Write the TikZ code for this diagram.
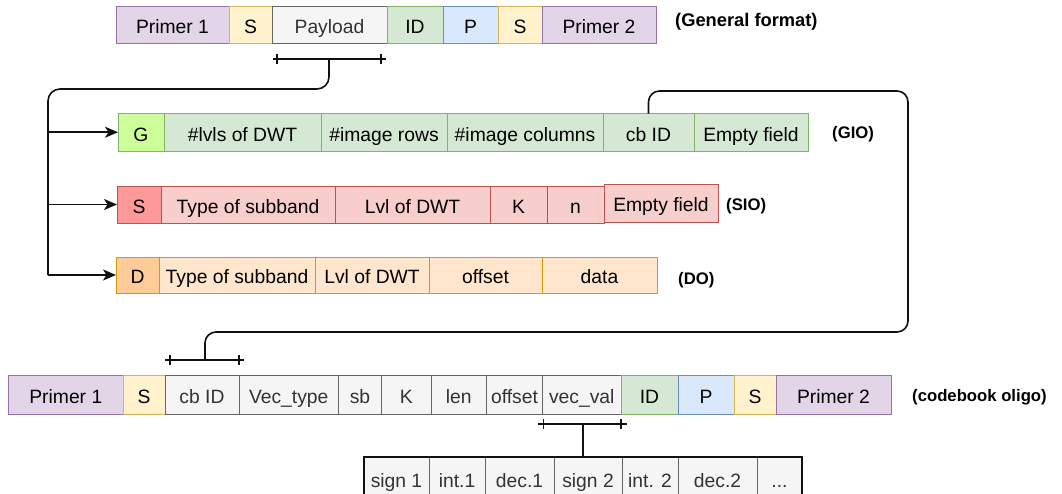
\documentclass[tikz,border=0pt]{standalone}
\usepackage{fontspec}
\setmainfont{Liberation Sans}
\usetikzlibrary{arrows.meta}
\definecolor{pF}{HTML}{E1D5E7}\definecolor{pD}{HTML}{9673A6}
\definecolor{yF}{HTML}{FFF2CC}\definecolor{yD}{HTML}{D6B656}
\definecolor{gyF}{HTML}{F5F5F5}\definecolor{gyD}{HTML}{666666}\definecolor{gyT}{HTML}{333333}
\definecolor{grF}{HTML}{D5E8D4}\definecolor{grD}{HTML}{82B366}
\definecolor{bF}{HTML}{DAE8FC}\definecolor{bD}{HTML}{6C8EBF}
\definecolor{limeF}{HTML}{CCFF99}
\definecolor{rF}{HTML}{F8CECC}\definecolor{rD}{HTML}{B85450}\definecolor{rS}{HTML}{FF9999}
\definecolor{oF}{HTML}{FFE6CC}\definecolor{oD}{HTML}{D79B00}\definecolor{oS}{HTML}{FFCC99}
\definecolor{lineC}{HTML}{111111}
\newcommand{\cellbox}[7]{%
 \pgfmathsetmacro\cellW{#4-#3}\pgfmathsetmacro\cellH{#6-#5}%
 \pgfmathsetmacro\cellX{(#3+#4)/2}\pgfmathsetmacro\cellY{(#5+#6)/2}%
 \node[cell,#2,minimum width=\cellW pt,minimum height=\cellH pt] (#1) at (\cellX,\cellY) {#7};}
\tikzset{
 cell/.style={draw, line width=1pt, inner sep=0pt, outer sep=0pt, text=black,
   font=\fontsize{19.3}{22}\selectfont, text height=18pt, text depth=0.5pt},
 pcell/.style={fill=pF, draw=pD},
 ycell/.style={fill=yF, draw=yD},
 gycell/.style={fill=gyF, draw=gyD, text=gyT},
 grcell/.style={fill=grF, draw=grD},
 bcell/.style={fill=bF, draw=bD},
 limecell/.style={fill=limeF, draw=grD},
 rcell/.style={fill=rF, draw=rD},
 rscell/.style={fill=rS, draw=rD},
 ocell/.style={fill=oF, draw=oD},
 oscell/.style={fill=oS, draw=oD},
 lbl/.style={font=\bfseries\fontsize{16.7}{20}\selectfont, inner sep=0pt, anchor=west},
 conn/.style={draw=lineC, line width=1.6pt},
 tick/.style={draw=lineC, line width=1.2pt},
 arr/.style={conn, -{Stealth[length=13pt,width=11pt,inset=3.5pt]}},
}
\begin{document}
\begin{tikzpicture}[x=1pt,y=-1pt]
\useasboundingbox (0,0) rectangle (1062,493);
% general format
\cellbox{a1}{pcell}{116}{229}{6}{43}{Primer 1}
\cellbox{a2}{ycell}{229}{272}{6}{43}{S}
\cellbox{pay}{gycell}{272}{387}{6}{43}{Payload}
\cellbox{a4}{grcell}{387}{443}{6}{43}{ID}
\cellbox{a5}{bcell}{443}{498}{6}{43}{P}
\cellbox{a6}{ycell}{498}{542}{6}{43}{S}
\cellbox{a7}{pcell}{542}{656}{6}{43}{Primer 2}
\node[lbl, font=\bfseries\fontsize{18.3}{22}\selectfont] (lgen) at (675,21.5) {(General format)};
% GIO
\cellbox{G}{limecell}{118}{164}{113.5}{151}{G}
\cellbox{g2}{grcell}{164}{321}{113.5}{151}{\#lvls of DWT}
\cellbox{g3}{grcell}{321}{447}{113.5}{151}{\#image rows}
\cellbox{g4}{grcell}{447}{603}{113.5}{151}{\#image columns}
\cellbox{cbG}{grcell}{603}{694}{113.5}{151}{cb ID}
\cellbox{g6}{grcell}{694}{808}{113.5}{151}{Empty field}
\node[lbl] (lgio) at (832,134) {(GIO)};
% SIO
\cellbox{S}{rscell}{117}{161}{186}{223}{S}
\cellbox{s2}{rcell}{161}{335}{186}{223}{Type of subband}
\cellbox{s3}{rcell}{335}{490}{186}{223}{Lvl of DWT}
\cellbox{s4}{rcell}{490}{547}{186}{223}{K}
\cellbox{s5}{rcell}{547}{604}{186}{223}{n}
\cellbox{s6}{rcell}{604}{718}{184}{222}{Empty field}
\node[lbl] (lsio) at (726,206.5) {(SIO)};
% DO
\cellbox{D}{oscell}{116}{159}{257}{293}{D}
\cellbox{d2}{ocell}{159}{315}{257}{293}{Type of subband}
\cellbox{d3}{ocell}{315}{429}{257}{293}{Lvl of DWT}
\cellbox{d4}{ocell}{429}{542}{257}{293}{offset}
\cellbox{d5}{ocell}{542}{657}{257}{293}{data}
\node[lbl] (ldo) at (678,280.5) {(DO)};
% codebook oligo
\cellbox{b1}{pcell}{8.6}{123}{375.5}{414}{Primer 1}
\cellbox{b2}{ycell}{123}{165}{375.5}{414}{S}
\cellbox{cbB}{gycell}{165}{239}{375.5}{414}{cb ID}
\cellbox{b4}{gycell}{239}{338.5}{375.5}{414}{Vec\_type}
\cellbox{b5}{gycell}{338.5}{381.5}{375.5}{414}{sb}
\cellbox{b6}{gycell}{381.5}{431}{375.5}{414}{K}
\cellbox{b7}{gycell}{431}{486.6}{375.5}{414}{len}
\cellbox{b8}{gycell}{486.6}{542.5}{375.5}{414}{offset}
\cellbox{vv}{gycell}{542.5}{621}{375.5}{414}{vec\_val}
\cellbox{b10}{grcell}{621}{678}{375.5}{414}{ID}
\cellbox{b11}{bcell}{678}{734}{375.5}{414}{P}
\cellbox{b12}{ycell}{734}{776}{375.5}{414}{S}
\cellbox{b13}{pcell}{776}{891}{375.5}{414}{Primer 2}
\node[lbl] (lcb) at (912,397) {(codebook oligo)};
% vec_val table
\cellbox{t1}{gycell}{364}{429}{457}{500}{sign 1}
\cellbox{t2}{gycell}{429}{485}{457}{500}{int.1}
\cellbox{t3}{gycell}{485}{554}{457}{500}{dec.1}
\cellbox{t4}{gycell}{554}{622}{457}{500}{sign 2}
\cellbox{t5}{gycell}{622}{678}{457}{500}{int. 2}
\cellbox{t6}{gycell}{678}{757}{457}{500}{dec.2}
\cellbox{t7}{gycell}{757}{802}{457}{500}{...}
\node[draw=lineC, line width=2.2pt, inner sep=0pt, outer sep=0pt,
      minimum width=438pt, minimum height=43pt] (tbl) at (583,478.5) {};
% brackets
\coordinate (pbr) at (329,59);
\draw[conn] (273,59) -- (386,59);
\draw[tick] (277,54) -- (277,64) (381,54) -- (381,64);
\coordinate (cbr) at (205,360);
\draw[conn] (165,360) -- (244,360);
\draw[tick] (170,355) -- (170,365) (239,355) -- (239,365);
\coordinate (vbr) at (583,424);
\draw[conn] (538,424) -- (627,424);
\draw[tick] (543.5,419) -- (543.5,429) (621,419) -- (621,429);
% connectors
\coordinate (ltop) at (48,89);
\draw[conn, rounded corners=12pt] (pbr) |- (ltop) -- (ltop |- D.west);
\draw[arr] (ltop |- G.west) -- (G.west);
\draw[arr] (ltop |- S.west) -- (S.west);
\draw[arr] (ltop |- D.west) -- (D.west);
\coordinate (rtop) at (908,91);
\coordinate (rbot) at (908,332);
\draw[conn, rounded corners=11pt] (cbG.north) |- (rtop) -- (rbot) -| (cbr);
\draw[draw=lineC, line width=2.8pt] (vbr) -- (tbl.north);
\end{tikzpicture}
\end{document}
